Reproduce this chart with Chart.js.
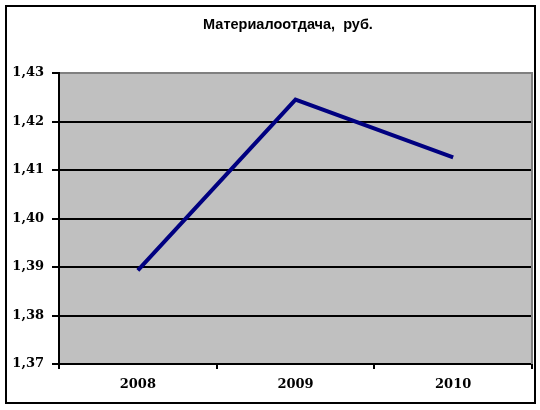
<!DOCTYPE html>
<html>
<head>
<meta charset="utf-8">
<script src="https://cdn.jsdelivr.net/npm/chart.js@4/dist/chart.umd.min.js"></script>
<style>
  html, body { margin: 0; padding: 0; background: #fff; }
  #wrap { width: 540px; height: 410px; position: relative; }
</style>
</head>
<body>
<div id="wrap"><canvas id="c" width="540" height="410"></canvas></div>
<script>
const titleText = 'Материалоотдача,  руб.';
const categories = ['2008', '2009', '2010'];
const values = [1.3893, 1.4245, 1.4126];
const yTickValues = [1.37, 1.38, 1.39, 1.40, 1.41, 1.42, 1.43];
const yTickLabels = ['1,37', '1,38', '1,39', '1,40', '1,41', '1,42', '1,43'];

const decor = {
  id: 'decor',
  beforeDraw(chart) {
    const { ctx, chartArea: a } = chart;
    ctx.save();
    ctx.fillStyle = '#C0C0C0';
    ctx.fillRect(a.left, a.top, a.right - a.left, a.bottom - a.top);
    ctx.restore();
  },
  afterDraw(chart) {
    const { ctx, chartArea: a } = chart;
    ctx.save();
    ctx.strokeStyle = '#808080';
    ctx.lineWidth = 2;
    ctx.beginPath();
    ctx.moveTo(a.right, a.top - 1);
    ctx.lineTo(a.right, a.bottom);
    ctx.stroke();
    ctx.strokeStyle = '#000';
    ctx.lineWidth = 2;
    ctx.strokeRect(6, 6, 529, 397);
    // chart title
    ctx.fillStyle = '#000';
    ctx.font = 'bold 14.5px "Liberation Sans", Arial, sans-serif';
    ctx.textAlign = 'center';
    ctx.textBaseline = 'alphabetic';
    ctx.fillText(titleText, (a.left + a.right) / 2 - 7.5, 28.5);
    ctx.restore();
  }
};

new Chart(document.getElementById('c'), {
  type: 'line',
  data: {
    labels: categories,
    datasets: [{
      data: values,
      borderColor: '#000080',
      borderWidth: 4,
      pointRadius: 0,
      tension: 0,
      fill: false
    }]
  },
  options: {
    responsive: false,
    animation: false,
    layout: { padding: { left: 0, right: 8, top: 73, bottom: 0 } },
    plugins: {
      legend: { display: false },
      tooltip: { enabled: false },
      title: { display: false }
    },
    scales: {
      x: {
        offset: true,
        grid: { offset: true, drawOnChartArea: false, drawTicks: true, tickLength: 5, color: '#000', lineWidth: 2 },
        border: { color: '#000', width: 2 },
        ticks: { color: '#000', padding: 8, maxRotation: 0,
          font: { family: '"DejaVu Serif", serif', size: 13, weight: 'bold' } },
        afterFit(scale) { scale.height = 46; }
      },
      y: {
        min: yTickValues[0],
        max: yTickValues[yTickValues.length - 1],
        afterBuildTicks(scale) { scale.ticks = yTickValues.map(v => ({ value: v })); },
        grid: {
          color: (ctx) => (ctx.tick && ctx.tick.value === yTickValues[yTickValues.length - 1]) ? '#808080' : '#000',
          tickColor: '#000',
          lineWidth: 2,
          tickLength: 7
        },
        border: { color: '#000', width: 2 },
        ticks: {
          color: '#000',
          padding: 8,
          font: { family: '"DejaVu Serif", serif', size: 13, weight: 'bold' },
          callback: (v, i) => yTickLabels[i]
        },
        afterFit(scale) { scale.width = 59; }
      }
    }
  },
  plugins: [decor]
});
</script>
</body>
</html>
